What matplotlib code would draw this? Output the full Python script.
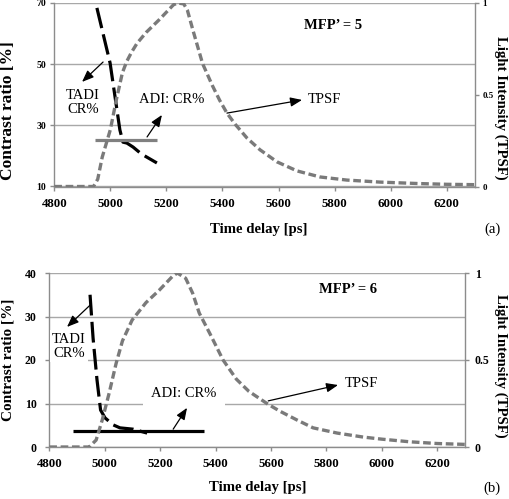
import matplotlib
matplotlib.use('Agg')
import matplotlib.pyplot as plt

plt.rcParams['font.family'] = ['Liberation Serif', 'DejaVu Serif']

# ---------------- data ----------------
x_ticks = [4800, 5000, 5200, 5400, 5600, 5800, 6000, 6200]
x_labels = ['4800', '5000', '5200', '5400', '5600', '5800', '6000', '6200']

# panel (a)  MFP' = 5
a_tpsf_t = [4800, 4850, 4900, 4940, 4955, 4971, 5000, 5021, 5043, 5058, 5075, 5095, 5128,
            5175, 5200, 5225, 5240, 5262, 5275, 5295, 5329, 5364, 5390, 5416, 5445,
            5487, 5534, 5595, 5666, 5748, 5844, 5962, 6100, 6200, 6300]
a_tpsf_i = [0.0, 0.0, 0.0, 0.0, 0.04, 0.16, 0.31, 0.47, 0.62, 0.68, 0.73, 0.78, 0.84,
            0.91, 0.95, 0.99, 1.0, 0.995, 0.96, 0.85, 0.67, 0.55, 0.47, 0.40, 0.34,
            0.265, 0.20, 0.134, 0.085, 0.052, 0.035, 0.024, 0.016, 0.012, 0.010]
a_tadi_t = [4952, 4999, 5034, 5045, 5059, 5081, 5106, 5117, 5166]
a_tadi_cr = [68.4, 50.4, 28.5, 24.5, 24.2, 22.9, 21.0, 20.3, 17.7]
a_adi_t = [4945, 5166]
a_adi_cr = [25.2, 25.2]
a_yticks = [10, 30, 50, 70]
a_rticks = [0, 0.5, 1]
a_rlabels = ['0', '0.5', '1']

# panel (b)  MFP' = 6
b_tpsf_t = [4800, 4900, 4944, 4969, 4991, 5016, 5041, 5064, 5099, 5149, 5196, 5244,
            5262, 5292, 5317, 5341, 5380, 5427, 5475, 5520, 5590, 5633, 5694, 5752,
            5839, 5933, 6000, 6100, 6200, 6300]
b_tpsf_i = [0.0, 0.0, 0.0, 0.04, 0.155, 0.31, 0.48, 0.61, 0.73, 0.83, 0.90, 0.98,
            1.0, 0.97, 0.885, 0.77, 0.65, 0.50, 0.39, 0.32, 0.245, 0.205, 0.155, 0.11,
            0.08, 0.057, 0.045, 0.03, 0.02, 0.015]
b_tadi_t = [4947, 4958, 4972, 4985, 5001, 5030, 5055, 5102, 5153]
b_tadi_cr = [35.0, 25.0, 15.5, 8.5, 6.7, 5.1, 4.4, 4.1, 3.2]
b_adi_t = [4885, 5358]
b_adi_cr = [3.7, 3.7]
b_yticks = [0, 10, 20, 30, 40]
b_rticks = [0, 0.5, 1]
b_rlabels = ['0', '0.5', '1']

# ---------------- style ----------------
GRID = '#a8a8a8'
SP = '#8c8c8c'
TPSF_C = '#7a7a7a'
W, H = 510, 499

fig = plt.figure(figsize=(W / 100, H / 100), dpi=100)


def px_axes(l, r, t, b):
    return fig.add_axes([l / W, 1 - b / H, (r - l) / W, (b - t) / H])


def setup(ax, axr, ylim, yticks, ysize, ypad, rticks, rlabels, rsize, rpad):
    ax.set_xlim(4800, 6300)
    ax.set_ylim(*ylim)
    ax.set_xticks(x_ticks, labels=x_labels, fontweight='bold', fontsize=9.3)
    ax.set_yticks(yticks, labels=[str(v) for v in yticks], fontweight='bold', fontsize=ysize)
    ax.yaxis.grid(True, color=GRID, lw=1.0)
    ax.set_axisbelow(True)
    for s in ['top', 'right']:
        ax.spines[s].set_visible(False)
    for s in ['left', 'bottom']:
        ax.spines[s].set_color(SP)
        ax.spines[s].set_linewidth(1.0)
    ax.tick_params(axis='x', direction='out', length=3, width=1, color=SP, pad=5)
    ax.tick_params(axis='y', direction='out', length=3, width=1, color=SP, pad=ypad)
    axr.set_ylim(0, 1)
    axr.set_yticks(rticks, labels=rlabels, fontweight='bold', fontsize=rsize)
    for s in ['top', 'left', 'bottom']:
        axr.spines[s].set_visible(False)
    axr.spines['right'].set_color(SP)
    axr.spines['right'].set_linewidth(1.0)
    axr.tick_params(axis='y', direction='out', length=3, width=1, color=SP, pad=rpad)


def arrow(ax, tail, head):
    ax.annotate('', xy=head, xytext=tail,
                arrowprops=dict(arrowstyle='-|>,head_length=0.7,head_width=0.28',
                                color='black', lw=0.9, shrinkA=0, shrinkB=0,
                                mutation_scale=10))


def label(ax, x, y, s, ha='center', pad=0.15):
    ax.text(x, y, s, ha=ha, va='center', fontsize=10.5, linespacing=1.1,
            bbox=dict(boxstyle='square,pad=%g' % pad, fc='white', ec='none'))


# ---------- panel (a) ----------
ax1 = px_axes(54.3, 474.7, 3, 186.5)
ax1r = ax1.twinx()
setup(ax1, ax1r, (10, 70), a_yticks, 7, 3, a_rticks, a_rlabels, 6.5, 2.5)
ax1.plot(a_tadi_t, a_tadi_cr, color='black', lw=2.3, dashes=(6.5, 2.0),
         dash_capstyle='butt')
ax1.plot(a_adi_t, a_adi_cr, color='#808080', lw=2.3, solid_capstyle='butt')
ax1r.plot(a_tpsf_t, a_tpsf_i, color=TPSF_C, lw=2.4, dashes=(2.3, 1.1),
          dash_capstyle='butt')
arrow(ax1, (4974, 50.7), (4899, 44.2))
label(ax1, 4903, 37.6, 'TADI\nCR%')
arrow(ax1, (5131, 26.2), (5184, 33.4))
label(ax1, 5220, 38.3, 'ADI: CR%', pad=0.5)
arrow(ax1, (5416, 34.0), (5684, 38.3))
label(ax1, 5705, 38.3, 'TPSF', ha='left')
ax1.text(5795, 62.8, 'MFP’ = 5', ha='center', va='center', fontsize=10.5,
         fontweight='bold')

# ---------- panel (b) ----------
ax2 = px_axes(49.3, 465, 273, 447)
ax2r = ax2.twinx()
setup(ax2, ax2r, (0, 40), b_yticks, 8.5, 6, b_rticks, b_rlabels, 8.5, 4)
ax2.plot(b_tadi_t, b_tadi_cr, color='black', lw=2.3, dashes=(6.5, 2.0),
         dash_capstyle='butt')
ax2.plot(b_adi_t, b_adi_cr, color='black', lw=2.3, solid_capstyle='butt')
ax2r.plot(b_tpsf_t, b_tpsf_i, color=TPSF_C, lw=2.4, dashes=(2.3, 1.1),
          dash_capstyle='butt')
arrow(ax2, (4947, 32.6), (4864, 27.6))
label(ax2, 4871, 23.2, 'TADI\nCR%')
arrow(ax2, (5247, 4.1), (5297, 9.0))
label(ax2, 5286, 12.4, 'ADI: CR%', pad=0.6)
arrow(ax2, (5590, 10.6), (5842, 14.25))
label(ax2, 5867, 14.7, 'TPSF', ha='left')
ax2.text(5878, 36.3, 'MFP’ = 6', ha='center', va='center', fontsize=10.5,
         fontweight='bold')

# ---------- figure texts ----------
def ftext(x, y, s, **kw):
    fig.text(x / W, 1 - y / H, s, ha='center', va='center', **kw)

ftext(8, 111, 'Contrast ratio [%]', rotation=90, fontsize=12.5, fontweight='bold')
ftext(500.5, 108, 'Light Intensity (TPSF)', rotation=-90, fontsize=10.6, fontweight='bold')
ftext(258.5, 229, 'Time delay [ps]', fontsize=10.6, fontweight='bold')
ftext(493, 229, '(a)', fontsize=10.6)

ftext(8, 360, 'Contrast ratio [%]', rotation=90, fontsize=11, fontweight='bold')
ftext(500.5, 366, 'Light Intensity (TPSF)', rotation=-90, fontsize=10.6, fontweight='bold')
ftext(258, 488, 'Time delay [ps]', fontsize=10.6, fontweight='bold')
ftext(492, 488, '(b)', fontsize=10.6)

fig.savefig('out.png', dpi=100)
